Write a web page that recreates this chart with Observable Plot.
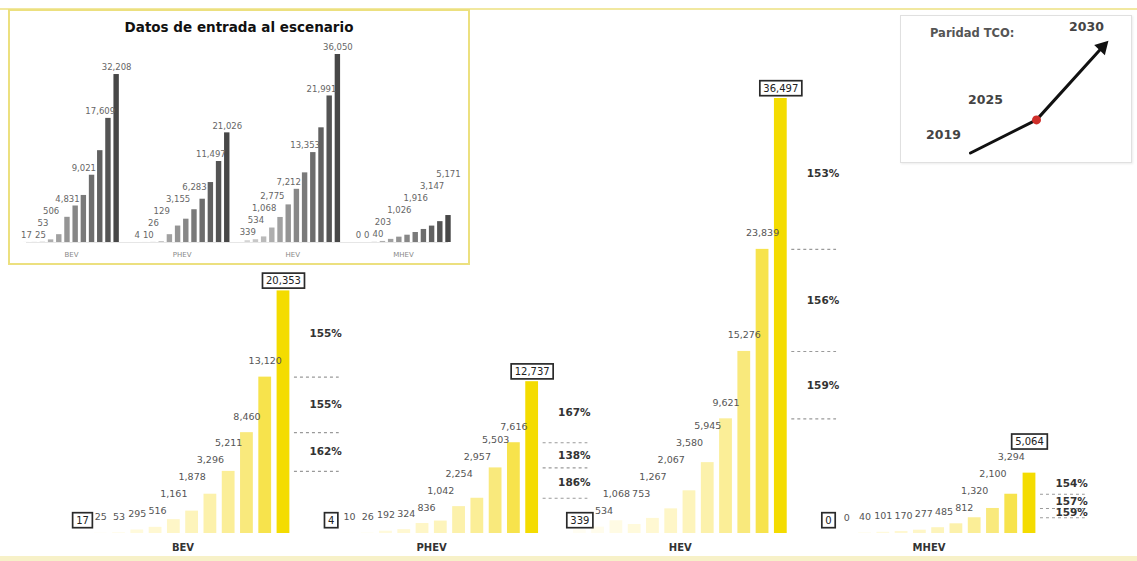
<!DOCTYPE html>
<html>
<head>
<meta charset="utf-8">
<script src="https://cdn.jsdelivr.net/npm/d3@7"></script>
<script src="https://cdn.jsdelivr.net/npm/@observablehq/plot@0.6"></script>
<style>
html, body { margin: 0; padding: 0; background: #fff; }
#root { position: relative; width: 1137px; height: 561px; overflow: hidden; font-family: "DejaVu Sans", sans-serif; background: #fff; }
#main { position: absolute; left: 0; top: 0; }
#topline { position: absolute; left: 0; top: 8px; width: 1137px; height: 2px; background: #f1e8a0; }
#botline { position: absolute; left: 0; top: 556px; width: 1137px; height: 5px; background: #f7f1c8; }
#inset { position: absolute; left: 8px; top: 9px; width: 462px; height: 256px; box-sizing: border-box; border: 2px solid #ece07f; background: #fff; }
#insetTitle { position: absolute; left: 0; top: 8px; width: 100%; text-align: center; font-weight: bold; font-size: 13.5px; line-height: 16px; color: #111; z-index: 2; }
#tco { position: absolute; left: 900px; top: 15px; width: 232px; height: 148px; box-sizing: border-box; border: 1.5px solid #e0e0e0; background: #fff; box-shadow: 1px 1px 2px rgba(0,0,0,0.08); }
#inset svg, #tco svg { position: absolute; left: 0; top: 0; }
</style>
</head>
<body>
<div id="root">
  <div id="main"></div>
  <div id="topline"></div>
  <div id="botline"></div>
  <div id="inset"><div id="insetTitle"></div></div>
  <div id="tco"></div>
</div>
<script>
// ---------- DATA ----------
const categories = ["BEV", "PHEV", "HEV", "MHEV"];
const years = [2019, 2020, 2021, 2022, 2023, 2024, 2025, 2026, 2027, 2028, 2029, 2030];

// Main chart (scenario results)
const bevSales  = [17, 25, 53, 295, 516, 1161, 1878, 3296, 5211, 8460, 13120, 20353];
const phevSales = [4, 10, 26, 192, 324, 836, 1042, 2254, 2957, 5503, 7616, 12737];
const hevSales  = [339, 534, 1068, 753, 1267, 2067, 3580, 5945, 9621, 15276, 23839, 36497];
const mhevSales = [0, 0, 40, 101, 170, 277, 485, 812, 1320, 2100, 3294, 5064];

// Inset: scenario input data (unlabelled bars)
const bevInput  = [17, 25, 53, 506, 1500, 4831, 7000, 9021, 12900, 17609, 23800, 32208];
const phevInput = [4, 10, 26, 129, 1500, 3155, 4470, 6283, 8300, 11497, 15530, 21026];
const hevInput  = [339, 534, 1068, 2775, 4800, 7212, 10200, 13353, 17240, 21991, 28100, 36050];
const mhevInput = [0, 0, 40, 203, 600, 1026, 1400, 1916, 2500, 3147, 4000, 5171];
const insetLabelIdx = [0, 1, 2, 3, 5, 7, 9, 11];
const insetTitle = "Datos de entrada al escenario";

// TCO parity schematic
const tcoTitle = "Paridad TCO:";
const tcoYears = ["2019", "2025", "2030"];
const tcoLevel = [0, 1, 3.2];

// ---------- HELPERS ----------
const fmt = d3.format(",");
const textW = (s, fs) => Array.from(s).reduce((w, ch) => w + ((ch === "," || ch === ".") ? 0.32 : 0.64) * fs, 0);

function addBoxes(svg, padX, padY) {
  d3.select(svg).selectAll(`g[aria-description="boxed"] text, g[fill="#212121"] text`).each(function () {
    if (this.previousSibling && this.previousSibling.tagName === "rect") return;
    const bb = this.getBBox();
    const r = document.createElementNS("http://www.w3.org/2000/svg", "rect");
    r.setAttribute("x", bb.x - padX);
    r.setAttribute("y", bb.y - padY);
    r.setAttribute("width", bb.width + 2 * padX);
    r.setAttribute("height", bb.height + 2 * padY);
    const t = this.getAttribute("transform");
    if (t) r.setAttribute("transform", t);
    r.setAttribute("fill", "#fff");
    r.setAttribute("stroke", "#2a2a2a");
    r.setAttribute("stroke-width", "1.7");
    this.parentNode.insertBefore(r, this);
  });
}

// ---------- MAIN CHART ----------
const salesByCat = [bevSales, phevSales, hevSales, mhevSales];
const W = 1137, H = 561;
const M = {left: 82, right: 108, top: 98, bottom: 28};
const G = 13.61;
const xMax = 3 * G + 11;
const yMax = d3.max(salesByCat.flat());
const kY = (H - M.top - M.bottom) / yMax;
const stepPx = (W - M.left - M.right) / xMax;
const FS = 9.5;

const bars = [], labelRows = [], boxRows = [], pctRows = [], catRows = [];
categories.forEach((c, g) => {
  const v = salesByCat[g];
  v.forEach((val, i) => bars.push({cat: c, g, i, year: years[i], value: val, pos: g * G + i}));
  // first value boxed at the foot of the first bar
  let prev = {x: 0, dx: 0, w: textW(fmt(v[0]), 10) + 7, h: 13};
  boxRows.push({pos: g * G, ly: 13 / kY, text: fmt(v[0])});
  for (let i = 1; i <= 10; i++) {
    const s = fmt(v[i]);
    const w = textW(s, FS);
    const x = i * stepPx;
    let h = Math.max(v[i] * kY + 16, prev.h);
    let dx = 0;
    const need = (prev.x + prev.dx + prev.w / 2 + 2) - (x - w / 2);
    if (need > 0 && h - prev.h < 12) {
      if (need <= 8) dx = need;
      else h = prev.h + 17;
    }
    labelRows.push({pos: g * G + i, ly: h / kY, text: s, dx});
    prev = {x, dx, w, h};
  }
  // last value boxed above the last bar
  const lastW = textW(fmt(v[11]), 10) + 7;
  let hBox = v[11] * kY + 10;
  const needBox = (prev.x + prev.dx + prev.w / 2 + 2) - (11 * stepPx - lastW / 2);
  if (needBox > 0) hBox = Math.max(hBox, prev.h + 15);
  boxRows.push({pos: g * G + 11, ly: hBox / kY, text: fmt(v[11])});
  for (const i of [8, 9, 10]) {
    pctRows.push({g, line: v[i], mid: (v[i] + v[i + 1]) / 2, pct: Math.round(v[i + 1] / v[i] * 100) + "%"});
  }
  catRows.push({cat: c, pos: g * G + 5.5});
});

const yellowRamp = ["#fffdf2", "#fffcec", "#fffbe4", "#fffadc", "#fff8d2", "#fef6c7", "#fdf4bb", "#fcf1ab", "#fbee97", "#f9e97c", "#f7e34c", "#f4dc00"];

const main = Plot.plot({
  width: W, height: H,
  marginLeft: M.left, marginRight: M.right, marginTop: M.top, marginBottom: M.bottom,
  x: {type: "linear", domain: [0, xMax], axis: null},
  y: {domain: [0, yMax], axis: null},
  color: {type: "ordinal", domain: years, range: yellowRamp},
  style: {fontFamily: "DejaVu Sans, sans-serif", background: "#fff", overflow: "visible"},
  marks: [
    Plot.rectY(bars, {x1: d => d.pos - 0.35, x2: d => d.pos + 0.35, y1: 0, y2: "value", fill: "year"}),
    Plot.ruleY(pctRows, {y: "line", x1: d => d.g * G + 11.6, x2: d => d.g * G + 14.05, stroke: "#9a9a9a", strokeDasharray: "3,3", strokeWidth: 1.1}),
    Plot.text(pctRows, {x: d => d.g * G + 12.42, y: "mid", text: "pct", textAnchor: "start", lineAnchor: "middle", fontWeight: "bold", fontSize: 10.5, fill: "#333"}),
    Plot.text(labelRows, {x: d => d.pos + d.dx / stepPx, y: "ly", text: "text", fontSize: FS, fill: "#555", lineAnchor: "middle"}),
    Plot.text(boxRows, {x: "pos", y: "ly", text: "text", fontSize: 10, fill: "#212121", lineAnchor: "middle", ariaDescription: "boxed"}),
    Plot.text(catRows, {x: "pos", y: 0, dy: 14, text: "cat", fontWeight: "bold", fontSize: 10, fill: "#333", lineAnchor: "middle"})
  ]
});
document.getElementById("main").appendChild(main);
addBoxes(main, 3.5, 2);

// ---------- INSET ----------
document.getElementById("insetTitle").textContent = insetTitle;
const inputByCat = [bevInput, phevInput, hevInput, mhevInput];
const IW = 458, IH = 252;
const IM = {left: 16, right: 20, top: 43, bottom: 21};
const IG = 13.5;
const ixMax = 3 * IG + 11;
const iyMax = d3.max(inputByCat.flat());
const ikY = (IH - IM.top - IM.bottom) / iyMax;
const iStep = (IW - IM.left - IM.right) / ixMax;
const IFS = 8.5;
const greyRamp = d3.quantize(d3.interpolateRgb("#d4d4d4", "#474747"), 12);

const iBars = [], iLabels = [], iCats = [];
categories.forEach((c, g) => {
  const v = inputByCat[g];
  v.forEach((val, i) => iBars.push({g, i, year: years[i], value: val, pos: g * IG + i}));
  let prev = null;
  for (const i of insetLabelIdx) {
    const s = fmt(v[i]);
    const w = textW(s, IFS);
    const x = i * iStep;
    const clear = Math.max(v[i], i < 11 ? v[i + 1] : 0);
    let h = clear * ikY + 7;
    let dx = 0;
    if (prev) {
      h = Math.max(h, prev.h);
      const need = (prev.x + prev.dx + prev.w / 2 + 3) - (x - w / 2);
      if (need > 0 && h - prev.h < 10) {
        if (need <= 6) dx = need;
        else h = prev.h + 12;
      }
    }
    iLabels.push({pos: g * IG + i + dx / iStep, ly: h / ikY, text: s});
    prev = {x, dx, w, h};
  }
  iCats.push({cat: c, pos: g * IG + 5.5});
});

const inset = Plot.plot({
  width: IW, height: IH,
  marginLeft: IM.left, marginRight: IM.right, marginTop: IM.top, marginBottom: IM.bottom,
  x: {type: "linear", domain: [0, ixMax], axis: null},
  y: {domain: [0, iyMax], axis: null},
  color: {type: "ordinal", domain: years, range: greyRamp},
  style: {fontFamily: "DejaVu Sans, sans-serif", background: "transparent", overflow: "visible"},
  marks: [
    Plot.rectY(iBars, {x1: d => d.pos - 0.33, x2: d => d.pos + 0.33, y1: 0, y2: "value", fill: "year"}),
    Plot.ruleY([0], {stroke: "#e6e6e6"}),
    Plot.text(iLabels, {x: "pos", y: "ly", text: "text", fontSize: IFS, fill: "#666", lineAnchor: "middle"}),
    Plot.text(iCats, {x: "pos", y: 0, dy: 12, text: "cat", fontSize: 7, fill: "#888", lineAnchor: "middle"})
  ]
});
document.getElementById("inset").appendChild(inset);

// ---------- TCO BOX ----------
const tcoRows = tcoYears.map((y, i) => ({year: y, level: tcoLevel[i]}));
const tcoFont = {fontWeight: "bold", fontSize: 12.5, fill: "#444", lineAnchor: "middle"};
const tco = Plot.plot({
  width: 229, height: 145,
  marginLeft: 68.5, marginRight: 27.5, marginTop: 30.5, marginBottom: 8.5,
  x: {type: "point", domain: tcoYears, padding: 0, axis: null},
  y: {domain: [0, d3.max(tcoLevel)], axis: null},
  style: {fontFamily: "DejaVu Sans, sans-serif", background: "transparent", overflow: "visible"},
  marks: [
    Plot.line(tcoRows, {x: "year", y: "level", stroke: "#111", strokeWidth: 3}),
    Plot.dot(tcoRows.slice(2), {x: "year", y: "level", symbol: "triangle", r: 5.5, fill: "#111", rotate: 44}),
    Plot.dot(tcoRows.slice(1, 2), {x: "year", y: "level", r: 4.5, fill: "#cf2f2a"}),
    Plot.text(tcoRows.slice(0, 1), {x: "year", y: "level", text: "year", dx: -27, dy: -18, ...tcoFont}),
    Plot.text(tcoRows.slice(1, 2), {x: "year", y: "level", text: "year", dx: -51, dy: -20, ...tcoFont}),
    Plot.text(tcoRows.slice(2, 3), {x: "year", y: "level", text: "year", dx: -16, dy: -20, ...tcoFont}),
    Plot.text([tcoTitle], {frameAnchor: "top-left", dx: -40, dy: -14, textAnchor: "start", fontWeight: "bold", fontSize: 11.5, fill: "#555", lineAnchor: "middle"})
  ]
});
document.getElementById("tco").appendChild(tco);
</script>
</body>
</html>
